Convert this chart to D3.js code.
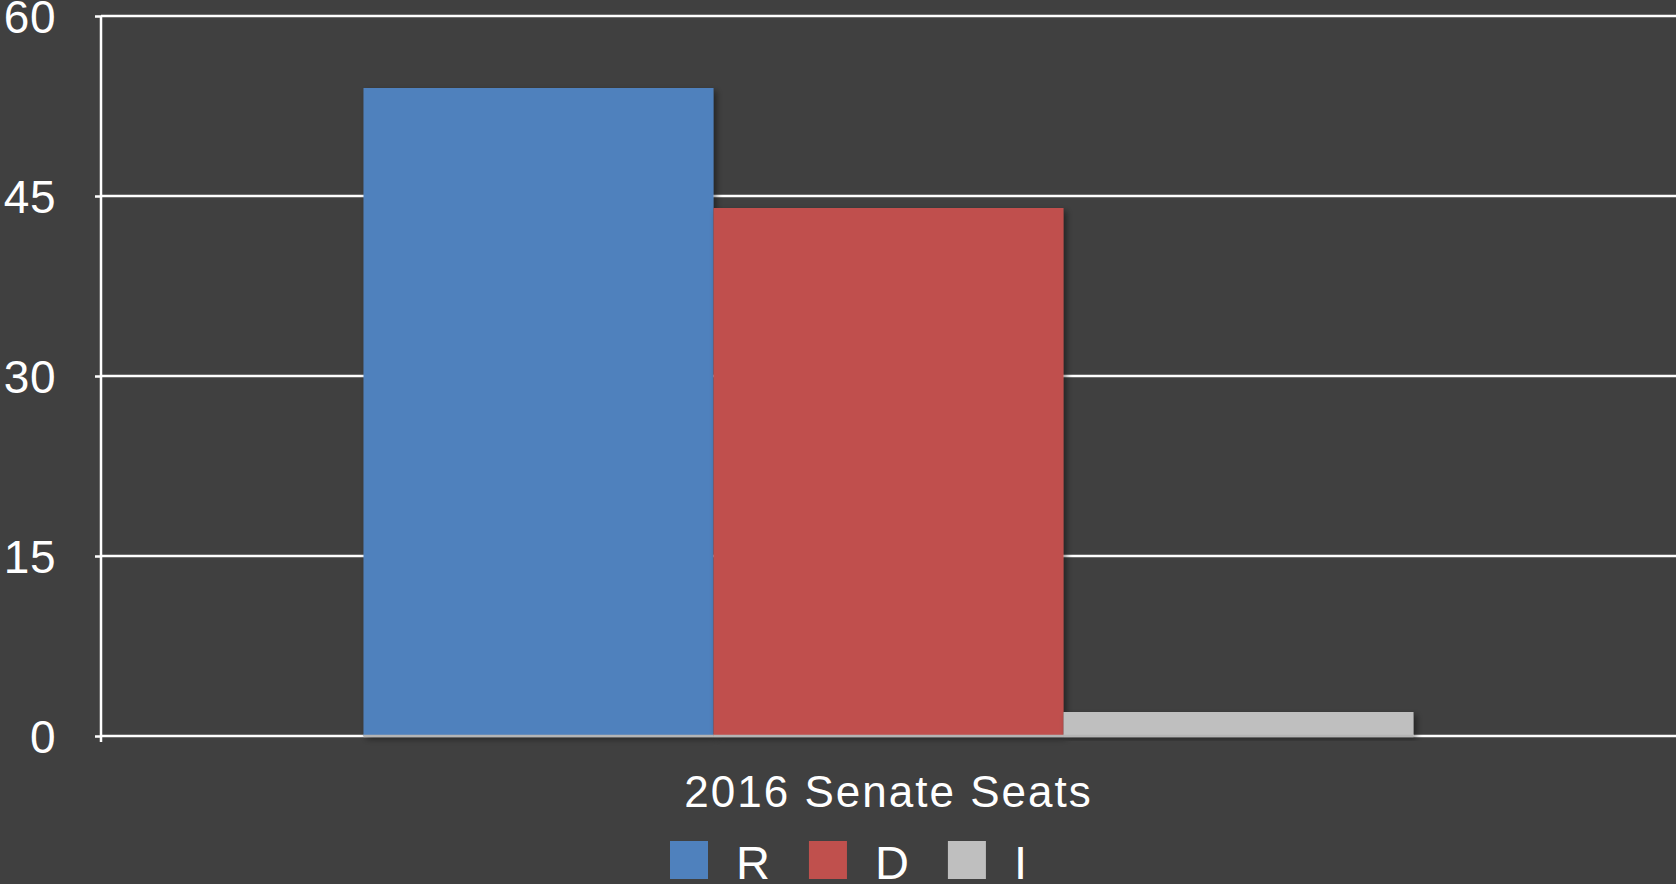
<!DOCTYPE html>
<html>
<head>
<meta charset="utf-8">
<script src="https://cdn.jsdelivr.net/npm/d3@7"></script>
<style>
  html, body { margin: 0; padding: 0; background: #404040; }
  svg { display: block; }
  text { font-family: "Liberation Sans", Arial, Helvetica, sans-serif; fill: #ffffff; }
</style>
</head>
<body>
<svg id="chart" width="1676" height="884"></svg>
<script>
// Senate seat counts by party after the 2016 election
const categories = ["2016 Senate Seats"];
const seriesNames = ["R", "D", "I"];
const seriesValues = [54, 44, 2];
const seriesColors = ["#4F81BD", "#C0504D", "#BFBFBF"];
const yTicks = [0, 15, 30, 45, 60];

const width = 1676, height = 884;
const margin = { top: 16, right: 0, bottom: 148, left: 101 };

const svg = d3.select("#chart");
svg.append("rect").attr("width", width).attr("height", height).attr("fill", "#404040");

const defs = svg.append("defs");
const shadow = defs.append("filter").attr("id", "barShadow")
  .attr("x", "-10%").attr("y", "-10%").attr("width", "130%").attr("height", "130%");
shadow.append("feDropShadow").attr("dx", 3).attr("dy", 3)
  .attr("stdDeviation", 3).attr("flood-color", "#000").attr("flood-opacity", 0.45);

const y = d3.scaleLinear().domain([0, 60]).range([height - margin.bottom, margin.top]);
const x0 = d3.scaleBand().domain(categories)
  .range([margin.left, width - margin.right]).paddingOuter(0.25).paddingInner(0);
const x1 = d3.scaleBand().domain(seriesNames).range([0, x0.bandwidth()]).padding(0);

// horizontal gridlines
svg.append("g").selectAll("line").data(yTicks).join("line")
  .attr("x1", margin.left).attr("x2", width)
  .attr("y1", d => y(d)).attr("y2", d => y(d))
  .attr("stroke", "#ffffff").attr("stroke-width", 2.5);

// left axis with outward ticks
const yAxis = d3.axisLeft(y).tickValues(yTicks).tickSize(6).tickPadding(0).tickFormat(d3.format("d"));
const gy = svg.append("g").attr("transform", `translate(${margin.left},0)`).call(yAxis);
gy.select(".domain").remove();
gy.selectAll(".tick line").attr("stroke", "#ffffff").attr("stroke-width", 2.5);
gy.selectAll(".tick text")
  .attr("x", -45).attr("dy", "0.36em")
  .attr("font-size", 46).attr("fill", "#ffffff")
  .attr("letter-spacing", 0.5)
  .attr("font-family", "\"Liberation Sans\", Arial, sans-serif");

svg.append("line")
  .attr("x1", margin.left).attr("x2", margin.left)
  .attr("y1", y(60)).attr("y2", y(0) + 6)
  .attr("stroke", "#ffffff").attr("stroke-width", 2.5);

// bars
const rows = seriesNames.map((s, i) => ({ cat: categories[0], name: s, value: seriesValues[i], color: seriesColors[i] }));
const barG = svg.append("g");
barG.selectAll("rect").data(rows).join("rect")
  .attr("x", d => x0(d.cat) + x1(d.name))
  .attr("y", d => y(d.value))
  .attr("width", x1.bandwidth())
  .attr("height", d => y(0) - y(d.value))
  .attr("fill", d => d.color)
  .attr("filter", "url(#barShadow)");
barG.selectAll("line").data(rows).join("line")
  .attr("x1", d => x0(d.cat) + x1(d.name))
  .attr("x2", d => x0(d.cat) + x1(d.name) + x1.bandwidth())
  .attr("y1", y(0)).attr("y2", y(0))
  .attr("stroke", "#b4b4b4").attr("stroke-width", 2.5);

// category label
svg.append("g").selectAll("text").data(categories).join("text")
  .attr("x", d => x0(d) + x0.bandwidth() / 2)
  .attr("y", 807)
  .attr("text-anchor", "middle")
  .attr("font-size", 44)
  .attr("letter-spacing", 2)
  .text(d => d);

// legend
const legend = svg.append("g");
const sw = 38, gapText = 28, gapItem = 39;
const items = legend.selectAll("g").data(rows).join("g");
items.append("rect").attr("width", sw).attr("height", sw).attr("fill", d => d.color);
items.append("text").attr("x", sw + gapText).attr("y", sw).attr("font-size", 47).text(d => d.name);
let cx = 0;
items.each(function () {
  const g = d3.select(this);
  g.attr("transform", `translate(${cx},0)`);
  cx += sw + gapText + g.select("text").node().getComputedTextLength() + gapItem;
});
legend.attr("transform", "translate(670,841)");
</script>
</body>
</html>
